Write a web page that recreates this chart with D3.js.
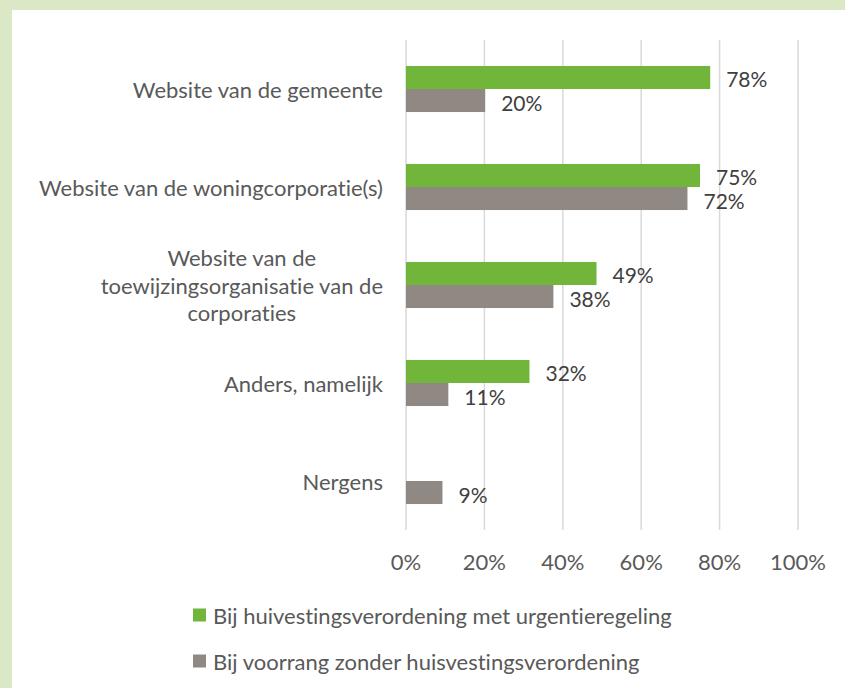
<!DOCTYPE html>
<html>
<head>
<meta charset="utf-8">
<script src="https://cdn.jsdelivr.net/npm/d3@7"></script>
<style>
  html, body { margin: 0; padding: 0; background: #dbe8c6; }
  svg { display: block; }
  text { font-variant-ligatures: none; font-feature-settings: "liga" 0, "clig" 0; }
</style>
</head>
<body>
<div id="chart"></div>
<script>
// categories (top to bottom), "\n" marks a wrapped label
var categories = [
    "Website van de gemeente",
    "Website van de woningcorporatie(s)",
    "Website van de\ntoewijzingsorganisatie van de\ncorporaties",
    "Anders, namelijk",
    "Nergens"
];
var seriesNames = [
    "Bij huivestingsverordening met urgentieregeling",
    "Bij voorrang zonder huisvestingsverordening"
];
var urgentieValues = [77.6, 75.0, 48.6, 31.5, null];
var voorrangValues = [20.2, 71.8, 37.6, 10.8, 9.3];
var xTicks = [0, 20, 40, 60, 80, 100];
var colors = ["#71b63a", "#8f8883"];

var width = 845, height = 688;
var fontFamily = "Lato, 'Open Sans', sans-serif";
var fontSize = "22px";

var svg = d3.select("#chart").append("svg")
    .attr("width", width)
    .attr("height", height);

// white panel on the green page
svg.append("rect")
    .attr("x", 12).attr("y", 10)
    .attr("width", width - 12).attr("height", height - 10)
    .attr("fill", "#ffffff");

var x = d3.scaleLinear().domain([0, 100]).range([406, 798]);
var y = d3.scaleBand().domain(categories).range([40, 530])
    .paddingInner(0.53).paddingOuter(0.265);
var ySub = d3.scaleBand().domain([0, 1]).range([0, y.bandwidth()]);

// gridlines
svg.append("g").selectAll("line")
    .data(xTicks)
    .enter().append("line")
    .attr("x1", function(d){ return x(d); })
    .attr("x2", function(d){ return x(d); })
    .attr("y1", 40).attr("y2", 530)
    .attr("stroke", "#d9d9d9")
    .attr("stroke-width", 1.5);

// x tick labels
svg.append("g").selectAll("text")
    .data(xTicks)
    .enter().append("text")
    .attr("x", function(d){ return x(d); })
    .attr("y", 561)
    .attr("text-anchor", "middle")
    .attr("dominant-baseline", "central")
    .style("font-family", fontFamily)
    .style("font-size", fontSize)
    .style("fill", "#595959")
    .text(function(d){ return d + "%"; });

// category labels
var catG = svg.append("g");
categories.forEach(function(c){
    var lines = c.split("\n");
    var t = catG.append("text")
        .style("font-family", fontFamily)
        .style("font-size", fontSize)
        .style("fill", "#595959");
    var lineH = 27.5;
    var cy = y(c) + y.bandwidth() / 2;
    lines.forEach(function(l, i){
        t.append("tspan")
            .attr("y", cy + (i - (lines.length - 1) / 2) * lineH)
            .attr("dominant-baseline", "central")
            .text(l);
    });
    // right edge of widest line at 383, lines centred on each other
    var maxW = 0;
    t.selectAll("tspan").each(function(){
        maxW = Math.max(maxW, this.getComputedTextLength());
    });
    t.attr("text-anchor", "middle");
    t.selectAll("tspan").attr("x", 383 - maxW / 2);
});

// bars
var seriesData = [urgentieValues, voorrangValues];
var fmt = d3.format(".0f");
seriesData.forEach(function(vals, si){
    var rows = categories.map(function(c, i){ return {cat: c, value: vals[i]}; })
        .filter(function(d){ return d.value !== null; });
    var g = svg.append("g");
    g.selectAll("rect")
        .data(rows)
        .enter().append("rect")
        .attr("x", x(0))
        .attr("y", function(d){ return y(d.cat) + ySub(si); })
        .attr("width", function(d){ return x(d.value) - x(0); })
        .attr("height", ySub.bandwidth())
        .attr("fill", colors[si]);
    g.selectAll("text")
        .data(rows)
        .enter().append("text")
        .attr("x", function(d){ return x(d.value) + 16; })
        .attr("y", function(d){ return y(d.cat) + ySub(si) + ySub.bandwidth() / 2 + 1.5; })
        .attr("dominant-baseline", "central")
        .style("font-family", fontFamily)
        .style("font-size", "21px")
        .style("fill", "#404040")
        .text(function(d){ return fmt(d.value) + "%"; });
});

// legend
var legend = svg.append("g").selectAll("g")
    .data(seriesNames)
    .enter().append("g")
    .attr("transform", function(d, i){ return "translate(193," + (615 + i * 46) + ")"; });
legend.append("rect")
    .attr("x", 0).attr("y", -6.5)
    .attr("width", 13).attr("height", 13)
    .attr("fill", function(d, i){ return colors[i]; });
legend.append("text")
    .attr("x", 20).attr("y", 0)
    .attr("dominant-baseline", "central")
    .style("font-family", fontFamily)
    .style("font-size", fontSize)
    .style("fill", "#595959")
    .text(function(d){ return d; });
</script>
</body>
</html>
